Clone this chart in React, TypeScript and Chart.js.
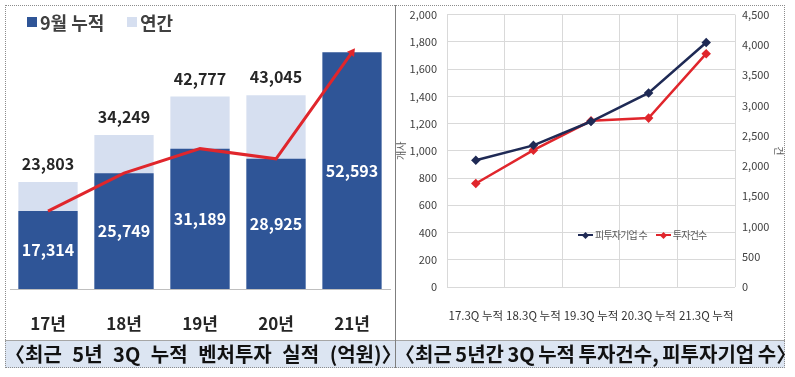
import React, { useEffect, useRef } from 'react';
import { Chart, registerables } from 'chart.js';
Chart.register(...registerables);

const FONT = '"Noto Sans CJK KR", "Noto Sans", sans-serif';

// Left chart data
const years = ['17년', '18년', '19년', '20년', '21년'];
const cumulativeSep = [17314, 25749, 31189, 28925, 52593];
const annualTotal: (number | null)[] = [23803, 34249, 42777, 43045, null];

// Right chart data
const periods = ['17.3Q 누적', '18.3Q 누적', '19.3Q 누적', '20.3Q 누적', '21.3Q 누적'];
const investedCompanies = [930, 1040, 1215, 1425, 1795];
const investmentDeals = [1710, 2260, 2745, 2790, 3855];

const DARK_BLUE = '#2f5597';
const LIGHT_BLUE = '#d6dff0';
const RED = '#e0262c';
const NAVY = '#1f2a55';

const barLabels = {
  id: 'barLabels',
  afterDatasetsDraw(chart: any) {
    const ctx = chart.ctx;
    ctx.save();
    ctx.font = `bold 16px ${FONT}`;
    ctx.textAlign = 'center';
    ctx.textBaseline = 'middle';
    const annualMeta = chart.getDatasetMeta(1);
    annualMeta.data.forEach((el: any, i: number) => {
      const v = annualTotal[i];
      if (v == null) return;
      ctx.fillStyle = '#262626';
      ctx.fillText(v.toLocaleString('en-US'), el.x, el.y - 18);
    });
    const cumMeta = chart.getDatasetMeta(0);
    cumMeta.data.forEach((el: any, i: number) => {
      ctx.fillStyle = '#ffffff';
      ctx.fillText(cumulativeSep[i].toLocaleString('en-US'), el.x, (el.y + el.base) / 2);
    });
    ctx.restore();
  },
};

function LeftChart() {
  const ref = useRef<HTMLCanvasElement>(null);
  useEffect(() => {
    const chart = new Chart(ref.current!, {
      type: 'bar',
      data: {
        labels: years,
        datasets: [
          {
            type: 'bar',
            label: '9월 누적',
            data: cumulativeSep,
            backgroundColor: DARK_BLUE,
            grouped: false,
            order: 2,
            barPercentage: 0.78,
            categoryPercentage: 1,
          },
          {
            type: 'bar',
            label: '연간',
            data: annualTotal,
            backgroundColor: LIGHT_BLUE,
            grouped: false,
            order: 3,
            barPercentage: 0.78,
            categoryPercentage: 1,
          },
          {
            type: 'line',
            label: 'trend',
            data: cumulativeSep,
            borderColor: RED,
            backgroundColor: RED,
            borderWidth: 3,
            pointRadius: [0, 0, 0, 0, 5],
            pointStyle: 'triangle',
            rotation: 36,
            pointBorderWidth: 0,
            order: 1,
          } as any,
        ],
      },
      options: {
        responsive: false,
        animation: false,
        layout: { padding: { left: 3.5, right: 1.5, top: 14, bottom: 0 } },
        plugins: { legend: { display: false }, tooltip: { enabled: false } },
        scales: {
          x: {
            grid: { display: false, drawTicks: false },
            border: { display: true, color: '#bfbfbf', width: 1 },
            ticks: { font: { family: FONT, size: 17, weight: 'bold' }, color: '#262626', padding: 24 },
            afterFit: (s: any) => { s.height = 51; },
          },
          y: { display: false, min: 0, max: 60000 },
        },
      },
      plugins: [barLabels],
    });
    return () => chart.destroy();
  }, []);
  return <canvas ref={ref} width={390} height={335} style={{ width: 390, height: 335, display: 'block' }} />;
}

function RightChart() {
  const ref = useRef<HTMLCanvasElement>(null);
  useEffect(() => {
    const chart = new Chart(ref.current!, {
      type: 'line',
      data: {
        labels: periods,
        datasets: [
          {
            label: '피투자기업 수',
            data: investedCompanies,
            borderColor: NAVY,
            backgroundColor: NAVY,
            borderWidth: 2.5,
            pointStyle: 'rectRot',
            pointRadius: 3,
            yAxisID: 'y',
          },
          {
            label: '투자건수',
            data: investmentDeals,
            borderColor: RED,
            backgroundColor: RED,
            borderWidth: 2.5,
            pointStyle: 'rectRot',
            pointRadius: 3,
            yAxisID: 'y1',
          },
        ],
      },
      options: {
        responsive: false,
        animation: false,
        layout: { padding: { left: 0, right: 0, top: 4.4, bottom: 0 } },
        plugins: { legend: { display: false }, tooltip: { enabled: false } },
        scales: {
          x: {
            offset: true,
            grid: { offset: true, color: '#d9d9d9', drawTicks: false },
            border: { display: false },
            ticks: { font: { family: FONT, size: 11.5 }, color: '#333333', padding: 22, maxRotation: 0, autoSkip: false },
            afterFit: (s: any) => { s.height = 53; },
          },
          y: {
            position: 'left',
            min: 0,
            max: 2000,
            ticks: { stepSize: 200, font: { family: FONT, size: 11 }, color: '#404040', padding: 10 },
            grid: { color: '#d9d9d9', drawTicks: false },
            border: { display: false },
            title: { display: true, text: '개사', font: { family: FONT, size: 10 }, color: '#595959', padding: 0 },
            afterFit: (s: any) => { s.width = 52; },
          },
          y1: {
            position: 'right',
            min: 0,
            max: 4500,
            ticks: { stepSize: 500, font: { family: FONT, size: 11 }, color: '#404040', padding: 7 },
            grid: { display: false, drawTicks: false },
            border: { display: false },
            title: { display: true, text: '건', font: { family: FONT, size: 10 }, color: '#595959', padding: 0 },
            afterFit: (s: any) => { s.width = 50; },
          },
        },
      },
    });
    return () => chart.destroy();
  }, []);
  return <canvas ref={ref} width={390} height={342} style={{ width: 390, height: 342, display: 'block' }} />;
}

export default function App() {
  const abs = (o: React.CSSProperties): React.CSSProperties => ({ position: 'absolute', ...o });
  return (
    <div style={abs({ left: 0, top: 0, width: 795, height: 377, background: '#fff', fontFamily: FONT, overflow: 'hidden' })}>
      <div style={abs({ left: 5, top: 5, width: 390, height: 335 })}>
        <LeftChart />
      </div>
      <div style={abs({ left: 395, top: -2, width: 390, height: 342 })}>
        <RightChart />
      </div>
      {/* left legend */}
      <div style={abs({ left: 27, top: 17, width: 10, height: 10, background: DARK_BLUE })} />
      <div style={abs({ left: 40, top: 9, fontSize: 18, fontWeight: 'bold', color: '#404040', lineHeight: '26px', whiteSpace: 'nowrap' })}>9월 누적</div>
      <div style={abs({ left: 127, top: 17, width: 10, height: 10, background: LIGHT_BLUE })} />
      <div style={abs({ left: 140, top: 9, fontSize: 18, fontWeight: 'bold', color: '#404040', lineHeight: '26px', whiteSpace: 'nowrap' })}>연간</div>
      {/* right legend */}
      <div style={abs({ left: 578, top: 227, display: 'flex', alignItems: 'center', fontSize: 10, color: '#595959', whiteSpace: 'nowrap', lineHeight: '16px', letterSpacing: -0.8 })}>
        <span style={{ position: 'relative', width: 15, height: 16, display: 'inline-block' }}>
          <span style={{ position: 'absolute', left: 0, top: 7, width: 15, height: 2, background: NAVY }} />
          <span style={{ position: 'absolute', left: 5, top: 5.5, width: 5, height: 5, background: NAVY, transform: 'rotate(45deg)' }} />
        </span>
        <span style={{ marginLeft: 2 }}>피투자기업 수</span>
        <span style={{ position: 'relative', width: 15, height: 16, display: 'inline-block', marginLeft: 9 }}>
          <span style={{ position: 'absolute', left: 0, top: 7, width: 15, height: 2, background: RED }} />
          <span style={{ position: 'absolute', left: 5, top: 5.5, width: 5, height: 5, background: RED, transform: 'rotate(45deg)' }} />
        </span>
        <span style={{ marginLeft: 2 }}>투자건수</span>
      </div>
      {/* caption bar */}
      <div style={abs({ left: 5, top: 340, width: 780, height: 28, background: '#dce5f2', borderTop: '1px solid #a6a6a6', boxSizing: 'border-box' })} />
      <div style={abs({ left: 5, top: 340, width: 390, height: 28, textAlign: 'center', fontSize: 20, fontWeight: 'bold', color: '#111', lineHeight: '28px', whiteSpace: 'nowrap', wordSpacing: 6 })}>〈최근 5년  3Q 누적 벤처투자 실적 (억원)〉</div>
      <div style={abs({ left: 395, top: 340, width: 390, height: 28, textAlign: 'center', fontSize: 20, fontWeight: 'bold', color: '#111', lineHeight: '28px', whiteSpace: 'nowrap', wordSpacing: -1 })}>〈최근 5년간 3Q 누적 투자건수, 피투자기업 수〉</div>
      {/* borders */}
      <div style={abs({ left: 0, top: 0, width: 795, height: 5, background: '#fff' })} />
      <div style={abs({ left: 5, top: 5, width: 780, height: 363, border: '1px dotted #8c8c8c', boxSizing: 'border-box' })} />
      <div style={abs({ left: 395, top: 5, width: 1, height: 363, background: '#7f7f7f' })} />
    </div>
  );
}
